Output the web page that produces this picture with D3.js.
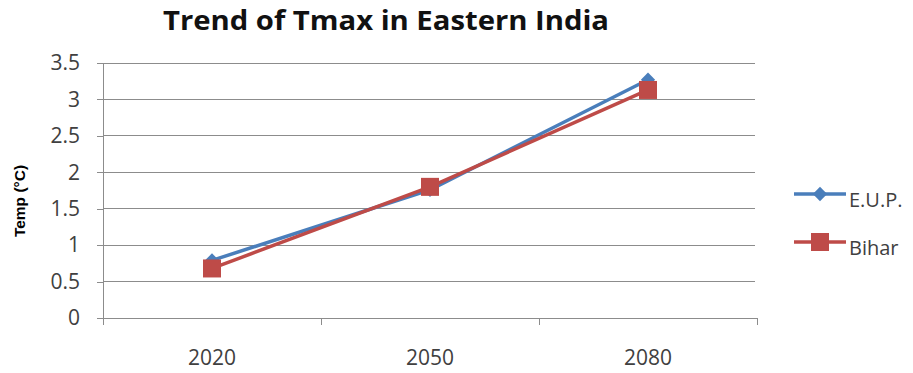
<!DOCTYPE html>
<html>
<head>
<meta charset="utf-8">
<script src="https://cdn.jsdelivr.net/npm/d3@7"></script>
<style>
  html, body { margin: 0; padding: 0; background: #fff; }
  svg { display: block; }
</style>
</head>
<body>
<svg id="chart" width="913" height="373"></svg>
<script>
// Projected rise in maximum temperature (°C)
const years = ["2020", "2050", "2080"];
const eupValues = [0.79, 1.76, 3.27];
const biharValues = [0.68, 1.80, 3.13];
const yTicks = [0, 0.5, 1, 1.5, 2, 2.5, 3, 3.5];

const series = [
  { name: "E.U.P.", values: eupValues, color: "#4a7ebb", marker: "diamond" },
  { name: "Bihar", values: biharValues, color: "#be4b48", marker: "square" }
];

const svg = d3.select("#chart");
const plot = { left: 103, right: 757, top: 63, bottom: 318 };

const x = d3.scaleBand().domain(years).range([plot.left, plot.right]);
const y = d3.scaleLinear().domain([0, 3.5]).range([plot.bottom, plot.top]);

const font = "'Open Sans', 'DejaVu Sans', sans-serif";

// Title
svg.append("text")
  .attr("x", 386).attr("y", 30)
  .attr("text-anchor", "middle")
  .attr("textLength", 446)
  .attr("lengthAdjust", "spacingAndGlyphs")
  .style("font-family", font)
  .style("font-weight", "bold")
  .style("font-size", "26px")
  .attr("fill", "#111")
  .text("Trend of Tmax in Eastern India");

// Horizontal gridlines
svg.append("g")
  .selectAll("line")
  .data(yTicks.filter(d => d > 0))
  .join("line")
  .attr("x1", plot.left).attr("x2", plot.right - 2)
  .attr("y1", d => y(d)).attr("y2", d => y(d))
  .attr("stroke", "#8c8c8c").attr("stroke-width", 1)
  .attr("shape-rendering", "crispEdges");

// Y axis
const yAxis = svg.append("g")
  .attr("transform", `translate(${plot.left},0)`)
  .call(d3.axisLeft(y).tickValues(yTicks).tickSize(6).tickPadding(17)
    .tickFormat(d => String(d)));
yAxis.selectAll("path, line").attr("stroke", "#8c8c8c").attr("shape-rendering", "crispEdges");
yAxis.selectAll("text")
  .style("font-family", font).style("font-size", "21px").attr("fill", "#404040");

// X axis with ticks on category boundaries
const xAxis = svg.append("g")
  .attr("transform", `translate(0,${plot.bottom})`);
xAxis.append("line")
  .attr("x1", plot.left - 6).attr("x2", plot.right)
  .attr("stroke", "#8c8c8c").attr("shape-rendering", "crispEdges");
const boundaries = years.map(d => x(d)).concat([x(years[years.length - 1]) + x.bandwidth()]);
xAxis.selectAll("line.tick")
  .data(boundaries)
  .join("line")
  .attr("class", "tick")
  .attr("x1", d => d).attr("x2", d => d)
  .attr("y1", 0).attr("y2", 7)
  .attr("stroke", "#8c8c8c").attr("shape-rendering", "crispEdges");
xAxis.selectAll("text")
  .data(years)
  .join("text")
  .attr("x", d => x(d) + x.bandwidth() / 2)
  .attr("y", 47)
  .attr("text-anchor", "middle")
  .style("font-family", font).style("font-size", "21px")
  .attr("fill", "#404040")
  .text(d => d);

// Y axis label
svg.append("text")
  .attr("transform", "translate(25,201) rotate(-90)")
  .attr("text-anchor", "middle")
  .style("font-family", "Arial, 'Liberation Sans', sans-serif")
  .style("font-weight", "bold")
  .style("font-size", "15.5px")
  .attr("fill", "#000")
  .text("Temp (°C)");

const cx = d => x(d) + x.bandwidth() / 2;
const line = d3.line().x((d, i) => cx(years[i])).y(d => y(d));

function drawMarker(g, type, px, py, color) {
  if (type === "diamond") {
    g.append("path")
      .attr("d", d3.symbol(d3.symbolDiamond2, 130)())
      .attr("transform", `translate(${px},${py})`)
      .attr("fill", color);
  } else {
    g.append("rect")
      .attr("x", px - 9).attr("y", py - 9)
      .attr("width", 18).attr("height", 18)
      .attr("fill", color);
  }
}

series.forEach(s => {
  const g = svg.append("g");
  g.append("path")
    .datum(s.values)
    .attr("d", line)
    .attr("fill", "none")
    .attr("stroke", s.color)
    .attr("stroke-width", 3.5);
  s.values.forEach((v, i) => drawMarker(g, s.marker, cx(years[i]), y(v), s.color));
});

// Legend
const legend = svg.append("g");
series.forEach((s, i) => {
  const ly = 194 + i * 48;
  legend.append("line")
    .attr("x1", 794).attr("x2", 846)
    .attr("y1", ly).attr("y2", ly)
    .attr("stroke", s.color).attr("stroke-width", 3.5);
  drawMarker(legend, s.marker, 820, ly, s.color);
  legend.append("text")
    .attr("x", 849).attr("y", ly + 13)
    .style("font-family", font).style("font-size", "20px")
    .attr("fill", "#404040")
    .text(s.name);
});
</script>
</body>
</html>
